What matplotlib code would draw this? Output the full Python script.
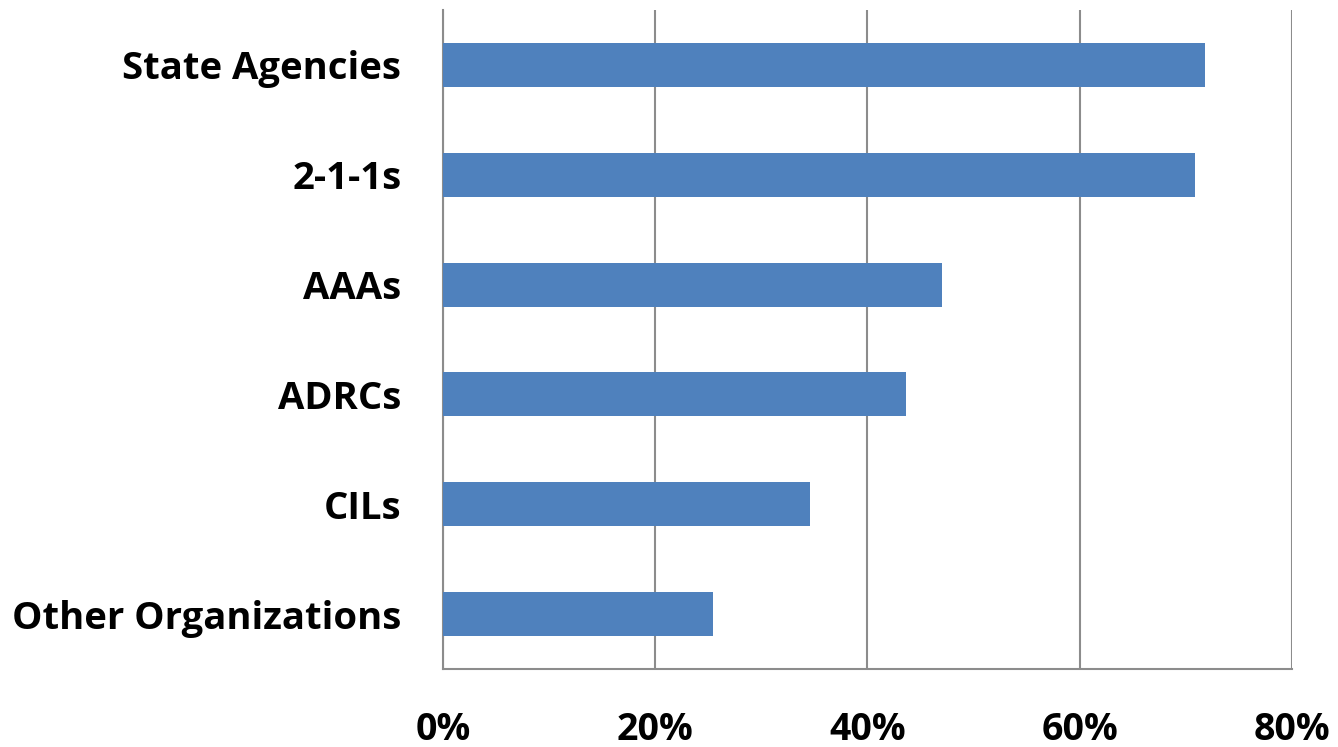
import matplotlib
matplotlib.use("Agg")
import matplotlib.pyplot as plt
from matplotlib.ticker import FuncFormatter

categories = ["State Agencies", "2-1-1s", "AAAs", "ADRCs", "CILs", "Other Organizations"]
shares = [71.8, 70.9, 47.0, 43.6, 34.6, 25.4]
xticks = [0, 20, 40, 60, 80]

plt.rcParams["font.family"] = ["Open Sans", "DejaVu Sans"]

fig = plt.figure(figsize=(13.38, 7.47), dpi=100)
ax = fig.add_axes([0.3311, 0.1044, 0.6345, 0.8822])

pos = list(range(len(categories)))
ax.barh(pos, shares, height=0.4, color="#4F81BD", zorder=3)
ax.set_ylim(len(categories) - 0.5, -0.5)
ax.set_yticks(pos)
ax.set_yticklabels(categories, fontsize=27.5, fontweight="bold")

ax.set_xlim(0, 80)
ax.set_xticks(xticks)
ax.xaxis.set_major_formatter(FuncFormatter(lambda v, _: f"{v:.0f}%"))
ax.tick_params(axis="x", labelsize=27, length=0, pad=30)
ax.tick_params(axis="y", length=0, pad=30)
for lbl in ax.get_xticklabels():
    lbl.set_fontweight("bold")

ax.grid(axis="x", color="#8c8c8c", linewidth=1.5, zorder=0)
ax.spines["top"].set_visible(False)
ax.spines["right"].set_visible(False)
for side in ("left", "bottom"):
    ax.spines[side].set_color("#8c8c8c")
    ax.spines[side].set_linewidth(1.5)

fig.savefig("out.png", dpi=100)
